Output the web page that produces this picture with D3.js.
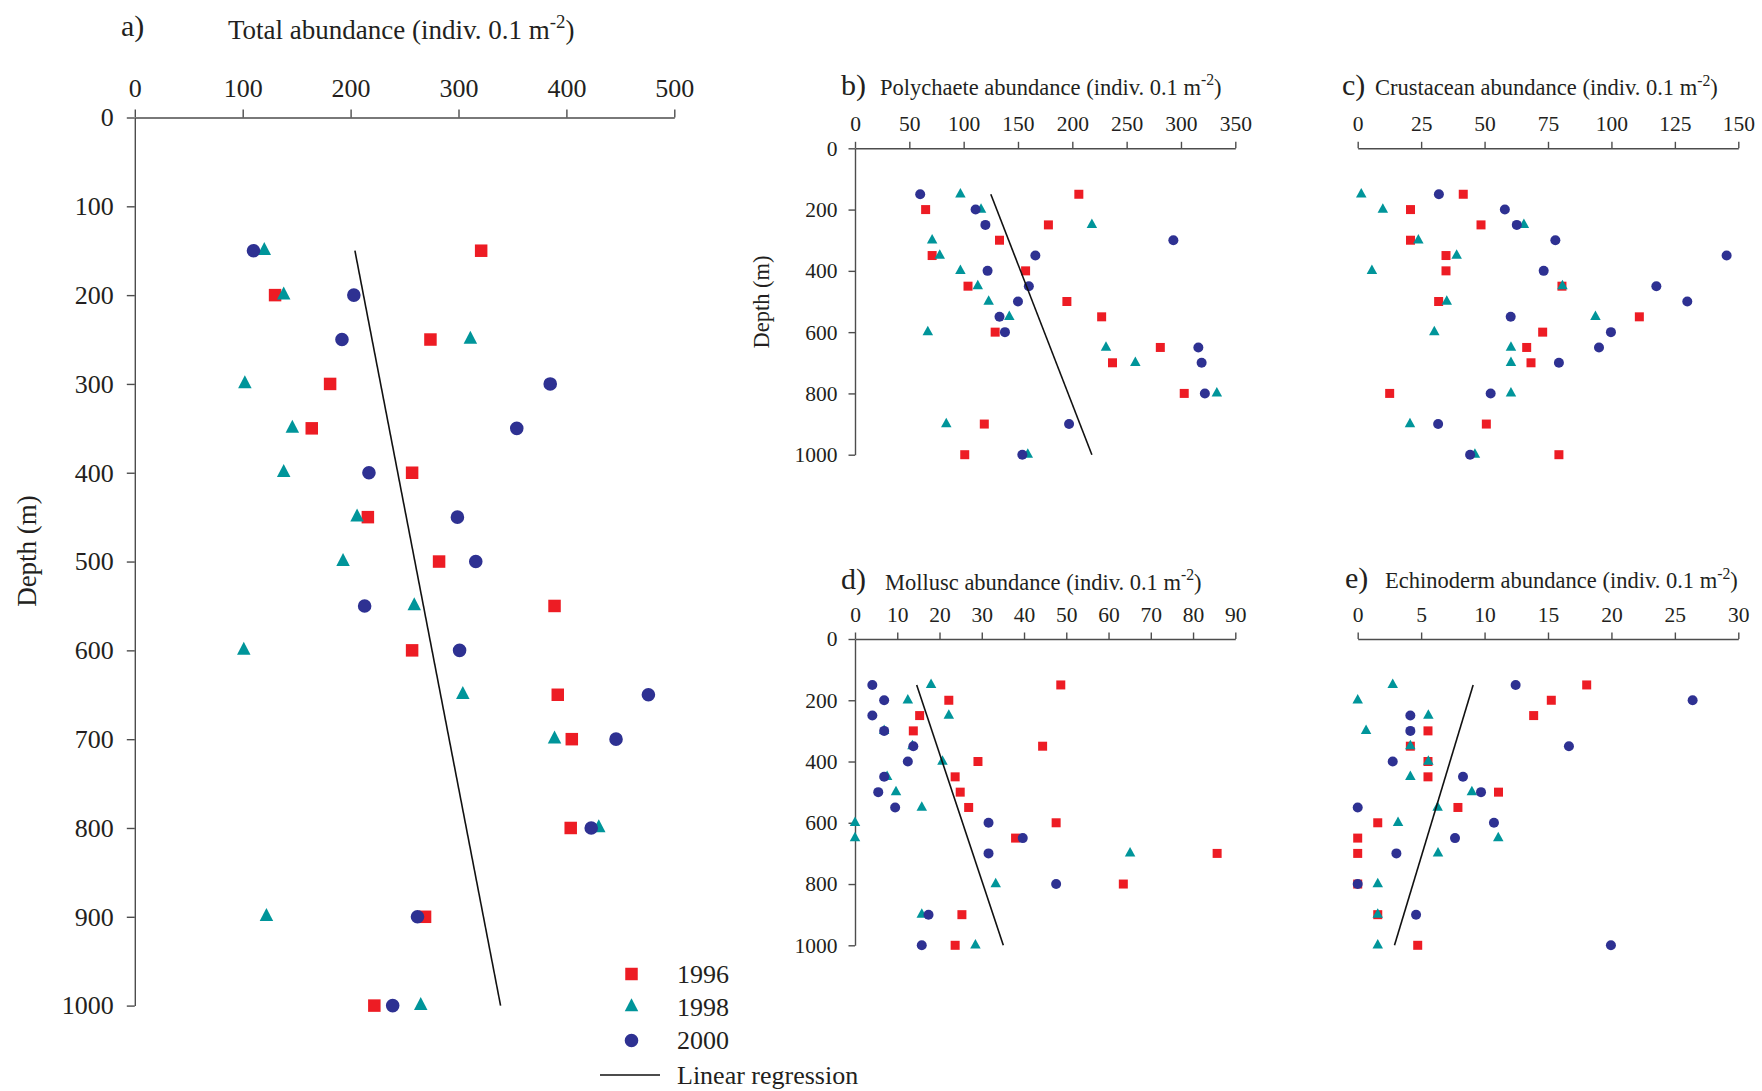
<!DOCTYPE html>
<html>
<head>
<meta charset="utf-8">
<script src="https://cdn.jsdelivr.net/npm/d3@7"></script>
<style>
  html, body { margin: 0; padding: 0; background: #fff; }
  svg { display: block; }
  svg text { font-family: "Liberation Serif", "Times New Roman", serif !important; fill: #231f20; }
</style>
</head>
<body>
<svg id="chart" width="1762" height="1091"></svg>
<script>
// Sampling depths (m) shared by every panel
const depths = [150, 200, 250, 300, 350, 400, 450, 500, 550, 600, 650, 700, 800, 900, 1000];
const years = ["1996", "1998", "2000"];

// Total abundance (indiv. 0.1 m^-2)
const total1996 = [321, 130, 274, 181, 164, 257, 216, 282, 389, 257, 392, 405, 404, 269, 222];
const total1998 = [120, 138, 311, 102, 146, 138, 206, 193, 259, 101, 304, 389, 430, 122, 265];
const total2000 = [110, 203, 192, 385, 354, 217, 299, 316, 213, 301, 476, 446, 423, 262, 239];
const totalFit = [204, 339];          // regression value at 150 m and 1000 m

// Polychaetes
const poly1996 = [206, 65, 178, 133, 71, 157, 104, 195, 227, 129, 281, 237, 303, 119, 101];
const poly1998 = [97, 116, 218, 71, 78, 97, 113, 123, 142, 67, 231, 258, 333, 84, 159];
const poly2000 = [60, 111, 120, 293, 166, 122, 160, 150, 133, 138, 316, 319, 322, 197, 154];
const polyFit = [125, 218];

// Crustaceans
const crus1996 = [41.6, 20.8, 48.6, 20.8, 34.8, 34.8, 80.5, 31.9, 111, 72.9, 66.6, 68.3, 12.6, 50.7, 79.3];
const crus1998 = [1.4, 9.9, 65.5, 23.9, 39, 5.6, 80.7, 35.1, 93.7, 30.2, 60.4, 60.4, 60.4, 20.6, 46.2];
const crus2000 = [32, 58, 62.7, 77.9, 145.4, 73.3, 117.7, 129.9, 60.3, 99.8, 95.1, 79.3, 52.4, 31.7, 44.3];

// Molluscs
const moll1996 = [48.7, 22.2, 15.3, 13.8, 44.4, 29.1, 23.7, 24.9, 26.9, 47.6, 38, 85.7, 63.5, 25.3, 23.7];
const moll1998 = [18, 12.5, 22.2, 6.9, 13.6, 20.7, 7.6, 9.7, 15.8, 0, 0, 65.1, 33.3, 15.8, 28.5];
const moll2000 = [4.1, 6.9, 4.1, 6.9, 13.8, 12.5, 6.9, 5.5, 9.5, 31.6, 39.7, 31.6, 47.6, 17.4, 15.8];
const mollFit = [14.6, 35.1];

// Echinoderms
const echi1996 = [18.05, 15.26, 13.87, 5.54, 4.15, 5.54, 5.54, 11.1, 7.9, 1.58, 0, 0, 0, 1.58, 4.73];
const echi1998 = [2.76, 0, 5.57, 0.66, 4.15, 5.57, 4.15, 9.0, 6.3, 3.18, 11.08, 6.33, 1.58, 1.58, 1.58];
const echi2000 = [12.45, 26.4, 4.15, 4.15, 16.65, 2.76, 8.3, 9.72, 0, 10.74, 7.67, 3.05, 0, 4.6, 19.96];
const echiFit = [9.1, 2.9];

// Axis ticks
const depthTicksA = [0, 100, 200, 300, 400, 500, 600, 700, 800, 900, 1000];
const depthTicksSmall = [0, 200, 400, 600, 800, 1000];
const totalTicks = [0, 100, 200, 300, 400, 500];
const polyTicks = [0, 50, 100, 150, 200, 250, 300, 350];
const crusTicks = [0, 25, 50, 75, 100, 125, 150];
const mollTicks = [0, 10, 20, 30, 40, 50, 60, 70, 80, 90];
const echiTicks = [0, 5, 10, 15, 20, 25, 30];

const colors = { "1996": "#ed1c24", "1998": "#00959a", "2000": "#2e3192" };
const serif = '"Liberation Serif", "Times New Roman", serif';

const svg = d3.select("#chart");
svg.append("rect").attr("width", 1762).attr("height", 1091).attr("fill", "#fff");

// Triangle with independent width and height, centred on its centroid
function triangleType(w, h) {
  return {
    draw(ctx) {
      ctx.moveTo(0, -2 * h / 3);
      ctx.lineTo(w / 2, h / 3);
      ctx.lineTo(-w / 2, h / 3);
      ctx.closePath();
    }
  };
}
function squareType(s) {
  return { draw(ctx) { ctx.rect(-s / 2, -s / 2, s, s); } };
}
function circleType(r) {
  return { draw(ctx) { ctx.moveTo(r, 0); ctx.arc(0, 0, r, 0, 2 * Math.PI); } };
}

function markerPath(year, m) {
  const type = year === "1996" ? squareType(m.sq)
    : year === "1998" ? triangleType(m.tw, m.th)
    : circleType(m.r);
  return d3.symbol().type(type)();
}

// Title with a superscript unit exponent
function addTitle(g, x, y, size, label) {
  const t = g.append("text").attr("x", x).attr("y", y).attr("font-size", size);
  t.append("tspan").text(label + " abundance (indiv. 0.1 m");
  t.append("tspan").attr("font-size", size * 0.7).attr("dy", -size * 0.42).text("-2");
  t.append("tspan").attr("dy", size * 0.42).text(")");
}

const panels = [
  { id: "a", label: "Total", series: [total1996, total1998, total2000], fit: totalFit,
    xDomain: [0, 500], xTicks: totalTicks, yTicks: depthTicksA,
    xRange: [134.8, 674.3], yRange: [117.5, 1005.6], yAxis: true,
    font: 26, tick: 8, xPad: 12.5, yPad: 13,
    marker: { sq: 12.5, tw: 13.5, th: 13, r: 6.8 },
    letter: { x: 121, y: 36, size: 30 }, title: { x: 228, y: 39, size: 27 },
    depthLabel: { x: 27, y: 551, size: 27 } },
  { id: "b", label: "Polychaete", series: [poly1996, poly1998, poly2000], fit: polyFit,
    xDomain: [0, 350], xTicks: polyTicks, yTicks: depthTicksSmall,
    xRange: [855, 1235.3], yRange: [148.3, 454.7], yAxis: true,
    font: 21.5, tick: 6.5, xPad: 11, yPad: 11,
    marker: { sq: 9, tw: 10.5, th: 9.5, r: 5 },
    letter: { x: 841, y: 95, size: 30 }, title: { x: 880, y: 94.5, size: 22.5 },
    depthLabel: { x: 761, y: 302, size: 22.5 } },
  { id: "c", label: "Crustacean", series: [crus1996, crus1998, crus2000], fit: null,
    xDomain: [0, 150], xTicks: crusTicks, yTicks: depthTicksSmall,
    xRange: [1357.7, 1738.3], yRange: [148.3, 454.7], yAxis: false,
    font: 21.5, tick: 6.5, xPad: 11, yPad: 11,
    marker: { sq: 9, tw: 10.5, th: 9.5, r: 5 },
    letter: { x: 1342, y: 95, size: 30 }, title: { x: 1375, y: 95, size: 22.5 },
    depthLabel: null },
  { id: "d", label: "Mollusc", series: [moll1996, moll1998, moll2000], fit: mollFit,
    xDomain: [0, 90], xTicks: mollTicks, yTicks: depthTicksSmall,
    xRange: [855, 1235.3], yRange: [639, 945.3], yAxis: true,
    font: 21.5, tick: 6.5, xPad: 11, yPad: 11,
    marker: { sq: 9, tw: 10.5, th: 9.5, r: 5 },
    letter: { x: 841, y: 589, size: 30 }, title: { x: 885, y: 589.5, size: 22.5 },
    depthLabel: null },
  { id: "e", label: "Echinoderm", series: [echi1996, echi1998, echi2000], fit: echiFit,
    xDomain: [0, 30], xTicks: echiTicks, yTicks: depthTicksSmall,
    xRange: [1357.7, 1738.3], yRange: [639, 945.3], yAxis: false,
    font: 21.5, tick: 6.5, xPad: 11, yPad: 11,
    marker: { sq: 9, tw: 10.5, th: 9.5, r: 5 },
    letter: { x: 1345, y: 588, size: 30 }, title: { x: 1385, y: 588, size: 22.5 },
    depthLabel: null }
];

panels.forEach(p => {
  const g = svg.append("g").attr("class", "panel-" + p.id);
  const x = d3.scaleLinear().domain(p.xDomain).range(p.xRange);
  const y = d3.scaleLinear().domain([0, 1000]).range(p.yRange);

  // Top abundance axis
  g.append("g")
    .attr("transform", `translate(0,${p.yRange[0]})`)
    .call(d3.axisTop(x).tickValues(p.xTicks).tickFormat(d3.format("d"))
      .tickSize(p.tick).tickSizeOuter(0).tickPadding(p.xPad));
  // Depth axis
  if (p.yAxis) {
    g.append("g")
      .attr("transform", `translate(${p.xRange[0]},0)`)
      .call(d3.axisLeft(y).tickValues(p.yTicks).tickFormat(d3.format("d"))
        .tickSize(p.tick).tickSizeOuter(0).tickPadding(p.yPad));
  }
  g.selectAll(".domain, .tick line").attr("stroke", "#4d4d4d").attr("stroke-width", 1.4);
  g.selectAll("g").attr("font-family", serif);
  g.selectAll(".tick text")
    .style("font-family", serif)
    .style("font-size", p.font + "px").attr("fill", "#231f20");

  // Panel letter and title
  g.append("text").attr("x", p.letter.x).attr("y", p.letter.y)
    .attr("font-size", p.letter.size).text(p.id + ")");
  addTitle(g, p.title.x, p.title.y, p.title.size, p.label);

  if (p.depthLabel) {
    g.append("text")
      .attr("transform", `translate(${p.depthLabel.x},${p.depthLabel.y}) rotate(-90)`)
      .attr("text-anchor", "middle").attr("dy", "0.35em")
      .attr("font-size", p.depthLabel.size).text("Depth (m)");
  }

  // Points: squares first, then triangles, then circles on top
  years.forEach((yr, i) => {
    g.append("g").selectAll("path")
      .data(depths.map((dp, k) => ({ depth: dp, value: p.series[i][k] })))
      .join("path")
      .attr("d", markerPath(yr, p.marker))
      .attr("fill", colors[yr])
      .attr("transform", d => `translate(${x(d.value)},${y(d.depth)})`);
  });

  // Linear regression across the sampled depth range
  if (p.fit) {
    const fitPts = [[p.fit[0], depths[0]], [p.fit[1], depths[depths.length - 1]]];
    g.append("path")
      .attr("d", d3.line().x(d => x(d[0])).y(d => y(d[1]))(fitPts))
      .attr("stroke", "#111").attr("stroke-width", 1.6).attr("fill", "none");
  }
});

// Legend
const legend = svg.append("g").attr("class", "legend");
const legendMarker = { sq: 12.5, tw: 13.5, th: 13, r: 6.8 };
const legendRows = [974, 1007, 1040.5];
years.forEach((yr, i) => {
  legend.append("path")
    .attr("d", markerPath(yr, legendMarker))
    .attr("fill", colors[yr])
    .attr("transform", `translate(631.5,${legendRows[i]})`);
  legend.append("text").attr("x", 677).attr("y", legendRows[i]).attr("dy", "0.34em")
    .attr("font-size", 26).text(yr);
});
legend.append("line").attr("x1", 600).attr("x2", 660).attr("y1", 1075).attr("y2", 1075)
  .attr("stroke", "#111").attr("stroke-width", 1.6);
legend.append("text").attr("x", 677).attr("y", 1075).attr("dy", "0.34em")
  .attr("font-size", 26).text("Linear regression");
</script>
</body>
</html>
